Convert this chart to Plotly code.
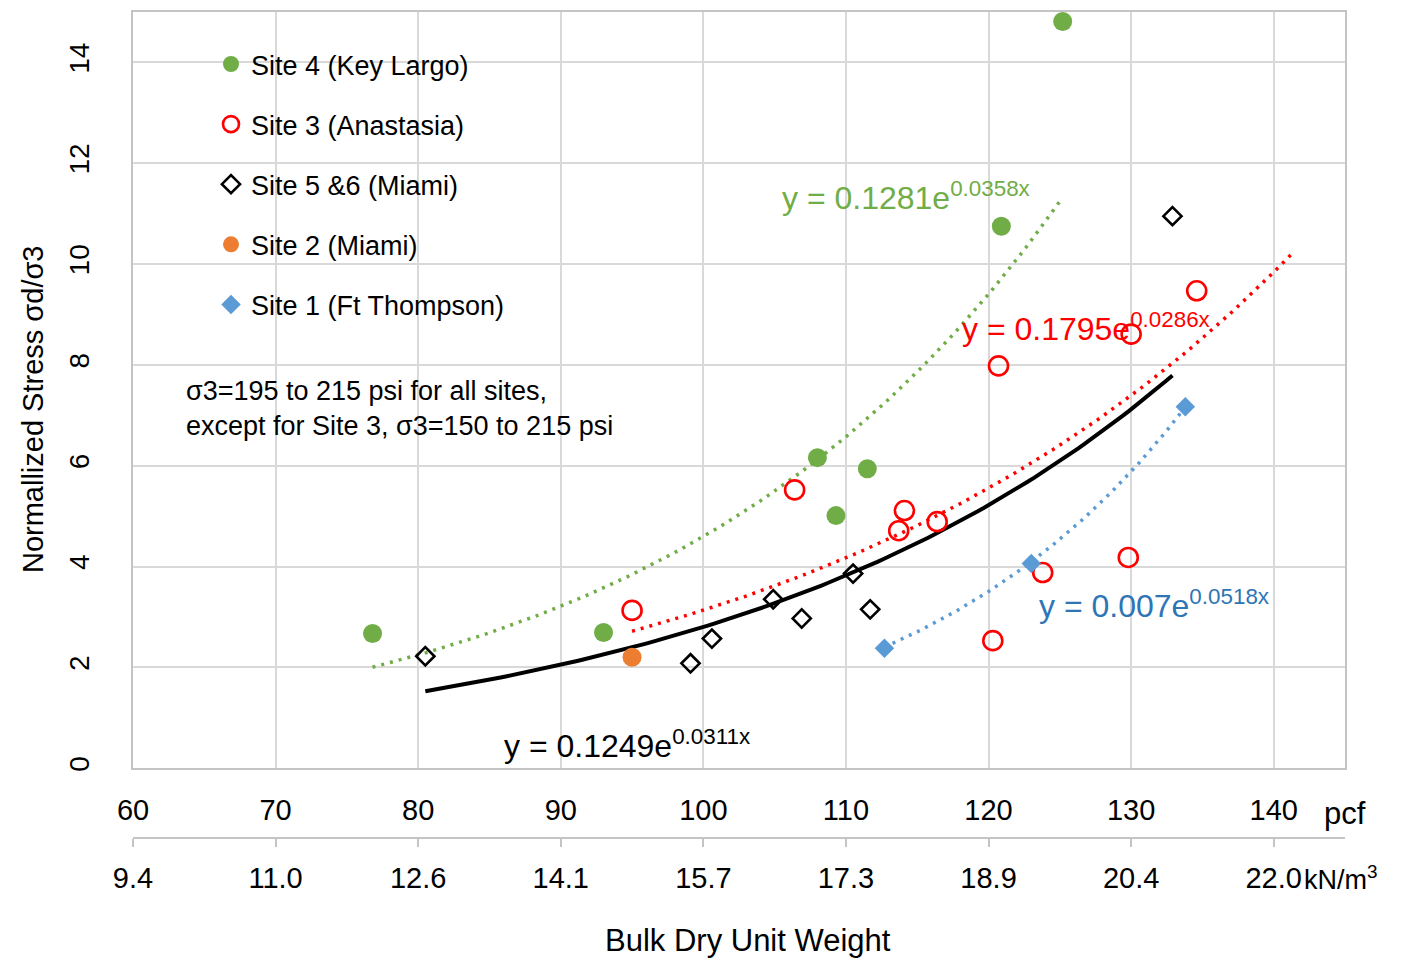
import numpy as np
import plotly.graph_objects as go

# ---------------- data ----------------
site4_x = [76.8, 93.0, 108.0, 109.3, 111.5, 120.9, 125.2]
site4_y = [2.67, 2.69, 6.16, 5.01, 5.94, 10.75, 14.81]

site3_x = [95.0, 106.4, 120.7, 114.1, 113.7, 116.4, 123.8, 120.3, 129.8, 134.6, 130.0]
site3_y = [3.13, 5.52, 7.98, 5.11, 4.71, 4.89, 3.88, 2.53, 4.18, 9.47, 8.61]

site56_x = [80.5, 99.1, 100.6, 104.9, 106.9, 110.5, 111.7, 132.9]
site56_y = [2.22, 2.08, 2.57, 3.35, 2.97, 3.86, 3.15, 10.95]

site2_x = [95.0]
site2_y = [2.20]

site1_x = [112.7, 123.0, 133.8]
site1_y = [2.38, 4.06, 7.17]

# exponential trendlines y = a*exp(b*x) as printed on the chart, with drawn x extents
trend_names = ["Site 4 fit", "Site 3 fit", "All fit", "Site 1 fit"]
trend_a = [0.1281, 0.1795, 0.1249, 0.007]
trend_b = [0.0358, 0.0286, 0.0311, 0.0518]
trend_x0 = [76.8, 95.0, 80.5, 112.7]
trend_x1 = [125.2, 141.2, 132.9, 133.8]

pcf_ticks = [60, 70, 80, 90, 100, 110, 120, 130, 140]
pcf_labels = ["60", "70", "80", "90", "100", "110", "120", "130", "140"]
kn_labels = ["9.4", "11.0", "12.6", "14.1", "15.7", "17.3", "18.9", "20.4", "22.0"]
y_ticks = [0, 2, 4, 6, 8, 10, 12, 14]

# ---------------- style ----------------
FONT = "Liberation Sans, Arial, sans-serif"
GREEN = "#70AD47"
RED = "#FF0000"
BLACK = "#000000"
ORANGE = "#ED7D31"
BLUE = "#5B9BD5"
BLUE_TXT = "#2E75B6"
GRID = "#d9d9d9"
AXLINE = "#c4c4c4"

W, H = 1407, 959
ML, MR, MT, MB = 133, 62, 10, 121
PW = W - ML - MR
PH = H - MT - MB
plot_bottom_px = 768


def px_to_paper_x(px):
    return (px - ML) / PW


def px_to_paper_y(py):
    return (H - MB - py) / PH


fig = go.Figure()

trend_styles = [
    dict(color=GREEN, width=3.5, dash="3px,6px"),
    dict(color=RED, width=3.5, dash="3px,6px"),
    dict(color=BLACK, width=4),
    dict(color=BLUE, width=3.5, dash="3px,6px"),
]
for name, a, b, x0, x1, st in zip(trend_names, trend_a, trend_b, trend_x0, trend_x1, trend_styles):
    xs = np.linspace(x0, x1, 120)
    ys = a * np.exp(b * xs)
    fig.add_trace(go.Scatter(x=xs, y=ys, mode="lines", line=st, name=name,
                             showlegend=False, hoverinfo="skip"))

fig.add_trace(go.Scatter(x=site4_x, y=site4_y, mode="markers", name="Site 4 (Key Largo)",
                         legendgroup="g1",
                         marker=dict(symbol="circle", size=19, color=GREEN)))
fig.add_trace(go.Scatter(x=site3_x, y=site3_y, mode="markers", name="Site 3 (Anastasia)",
                         legendgroup="g2",
                         marker=dict(symbol="circle-open", size=19, color=RED,
                                     line=dict(width=2.6, color=RED))))
fig.add_trace(go.Scatter(x=site56_x, y=site56_y, mode="markers", name="Site 5 &6 (Miami)",
                         legendgroup="g3",
                         marker=dict(symbol="diamond-open", size=14, color=BLACK,
                                     line=dict(width=2.6, color=BLACK))))
fig.add_trace(go.Scatter(x=site2_x, y=site2_y, mode="markers", name="Site 2 (Miami)",
                         legendgroup="g4",
                         marker=dict(symbol="circle", size=19, color=ORANGE)))
fig.add_trace(go.Scatter(x=site1_x, y=site1_y, mode="markers", name="Site 1 (Ft Thompson)",
                         legendgroup="g5",
                         marker=dict(symbol="diamond", size=15, color=BLUE)))

# dummy trace to show the secondary (kN/m3) axis
fig.add_trace(go.Scatter(x=[None], y=[None], xaxis="x2", yaxis="y", showlegend=False,
                         hoverinfo="skip"))

fig.update_layout(
    width=W, height=H,
    margin=dict(l=ML, r=MR, t=MT, b=MB, pad=0),
    plot_bgcolor="white", paper_bgcolor="white",
    font=dict(family=FONT, color="black", size=27),
    showlegend=True,
    legend=dict(x=px_to_paper_x(211), y=px_to_paper_y(38), xanchor="left", yanchor="top",
                bgcolor="rgba(0,0,0,0)", font=dict(family=FONT, size=27, color="black"),
                traceorder="grouped", tracegroupgap=22, itemwidth=30),
    xaxis=dict(range=[60, 145], tickvals=pcf_ticks, ticktext=pcf_labels,
               showgrid=True, gridcolor=GRID, gridwidth=2,
               showline=True, linecolor=AXLINE, linewidth=2, mirror=True,
               ticks="", zeroline=False, anchor="y",
               tickfont=dict(family=FONT, size=29, color="black"),
               ticklabelstandoff=15),
    xaxis2=dict(range=[60, 145], tickvals=pcf_ticks, ticktext=kn_labels,
                overlaying="x", anchor="free", position=0, side="bottom",
                showgrid=False, zeroline=False,
                showline=True, linecolor=AXLINE, linewidth=2,
                ticks="outside", ticklen=8, tickwidth=2, tickcolor=AXLINE,
                tickfont=dict(family=FONT, size=29, color="black"),
                ticklabelstandoff=6),
    yaxis=dict(domain=[(H - MB - plot_bottom_px) / PH, 1],
               range=[0, 15], tickvals=y_ticks, tickangle=-90,
               showgrid=True, gridcolor=GRID, gridwidth=2,
               showline=True, linecolor=AXLINE, linewidth=2, mirror=True,
               ticks="", zeroline=False,
               tickfont=dict(family=FONT, size=28, color="black"),
               ticklabelstandoff=31),
)

anns = []
# equations
anns.append(dict(x=105.4, y=11.35, xref="x", yref="y", xanchor="left", yanchor="middle",
                 text="y = 0.1281e<sup>0.0358x</sup>", showarrow=False,
                 font=dict(family=FONT, size=32, color=GREEN)))
anns.append(dict(x=118.0, y=8.75, xref="x", yref="y", xanchor="left", yanchor="middle",
                 text="y = 0.1795e<sup>0.0286x</sup>", showarrow=False,
                 font=dict(family=FONT, size=32, color=RED)))
anns.append(dict(x=123.4, y=3.25, xref="x", yref="y", xanchor="left", yanchor="middle",
                 text="y = 0.007e<sup>0.0518x</sup>", showarrow=False,
                 font=dict(family=FONT, size=32, color=BLUE_TXT)))
anns.append(dict(x=85.9, y=0.48, xref="x", yref="y", xanchor="left", yanchor="middle",
                 text="y = 0.1249e<sup>0.0311x</sup>", showarrow=False,
                 font=dict(family=FONT, size=32, color=BLACK)))
# note
anns.append(dict(x=63.6, y=7.13, xref="x", yref="y", xanchor="left", yanchor="middle",
                 align="left",
                 text="σ3=195 to 215 psi for all sites,<br>except for Site 3, σ3=150 to 215 psi",
                 showarrow=False, font=dict(family=FONT, size=27, color="black")))
# axis titles and units
anns.append(dict(x=px_to_paper_x(33), y=px_to_paper_y(408), xref="paper", yref="paper",
                 text="Normallized Stress σd/σ3", textangle=-90, showarrow=False,
                 xanchor="center", yanchor="middle",
                 font=dict(family=FONT, size=29, color="black")))
anns.append(dict(x=px_to_paper_x(748), y=px_to_paper_y(941), xref="paper", yref="paper",
                 text="Bulk Dry Unit Weight", showarrow=False,
                 xanchor="center", yanchor="middle",
                 font=dict(family=FONT, size=31, color="black")))
anns.append(dict(x=px_to_paper_x(1322), y=px_to_paper_y(813), xref="paper", yref="paper",
                 text="pcf", showarrow=False, xanchor="left", yanchor="middle",
                 font=dict(family=FONT, size=31, color="black")))
anns.append(dict(x=px_to_paper_x(1302), y=px_to_paper_y(878), xref="paper", yref="paper",
                 text="kN/m<sup>3</sup>", showarrow=False, xanchor="left", yanchor="middle",
                 font=dict(family=FONT, size=27, color="black")))
fig.update_layout(annotations=anns)

fig.write_html("out.html")
